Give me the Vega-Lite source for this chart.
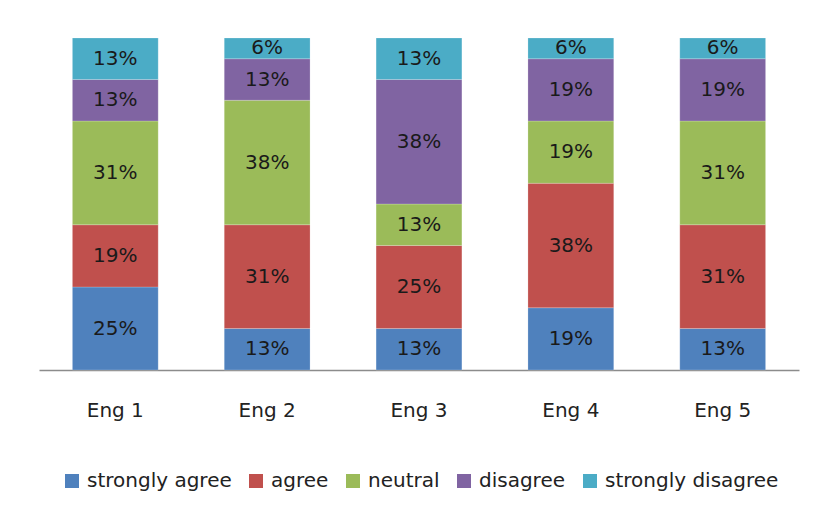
{
  "$schema": "https://vega.github.io/schema/vega-lite/v6.json",
  "width": 760,
  "height": 332,
  "padding": {"left": 39, "top": 37, "right": 18, "bottom": 10},
  "background": "white",
  "config": {
    "view": {"stroke": null},
    "font": "DejaVu Sans",
    "text": {"font": "DejaVu Sans"}
  },
  "data": {
    "values": [
      {"eng": "Eng 1", "resp": "strongly agree", "k": 1, "v": 0.25},
      {"eng": "Eng 1", "resp": "agree", "k": 2, "v": 0.1875},
      {"eng": "Eng 1", "resp": "neutral", "k": 3, "v": 0.3125},
      {"eng": "Eng 1", "resp": "disagree", "k": 4, "v": 0.125},
      {"eng": "Eng 1", "resp": "strongly disagree", "k": 5, "v": 0.125},
      {"eng": "Eng 2", "resp": "strongly agree", "k": 1, "v": 0.125},
      {"eng": "Eng 2", "resp": "agree", "k": 2, "v": 0.3125},
      {"eng": "Eng 2", "resp": "neutral", "k": 3, "v": 0.375},
      {"eng": "Eng 2", "resp": "disagree", "k": 4, "v": 0.125},
      {"eng": "Eng 2", "resp": "strongly disagree", "k": 5, "v": 0.0625},
      {"eng": "Eng 3", "resp": "strongly agree", "k": 1, "v": 0.125},
      {"eng": "Eng 3", "resp": "agree", "k": 2, "v": 0.25},
      {"eng": "Eng 3", "resp": "neutral", "k": 3, "v": 0.125},
      {"eng": "Eng 3", "resp": "disagree", "k": 4, "v": 0.375},
      {"eng": "Eng 3", "resp": "strongly disagree", "k": 5, "v": 0.125},
      {"eng": "Eng 4", "resp": "strongly agree", "k": 1, "v": 0.1875},
      {"eng": "Eng 4", "resp": "agree", "k": 2, "v": 0.375},
      {"eng": "Eng 4", "resp": "neutral", "k": 3, "v": 0.1875},
      {"eng": "Eng 4", "resp": "disagree", "k": 4, "v": 0.1875},
      {"eng": "Eng 4", "resp": "strongly disagree", "k": 5, "v": 0.0625},
      {"eng": "Eng 5", "resp": "strongly agree", "k": 1, "v": 0.125},
      {"eng": "Eng 5", "resp": "agree", "k": 2, "v": 0.3125},
      {"eng": "Eng 5", "resp": "neutral", "k": 3, "v": 0.3125},
      {"eng": "Eng 5", "resp": "disagree", "k": 4, "v": 0.1875},
      {"eng": "Eng 5", "resp": "strongly disagree", "k": 5, "v": 0.0625}
    ]
  },
  "encoding": {
    "x": {
      "field": "eng",
      "type": "nominal",
      "scale": {"paddingInner": 0.435, "paddingOuter": 0.22},
      "axis": {
        "title": null,
        "labelAngle": 0,
        "labelFont": "DejaVu Sans",
        "labelFontSize": 20,
        "labelColor": "#222222",
        "labelPadding": 30,
        "ticks": false,
        "domainColor": "#8c8c8c",
        "domainWidth": 1.5
      }
    },
    "y": {
      "field": "v",
      "type": "quantitative",
      "stack": "zero",
      "scale": {"domain": [0, 1], "nice": false},
      "axis": null
    },
    "order": {"field": "k", "type": "quantitative"}
  },
  "layer": [
    {
      "mark": {"type": "bar", "stroke": "white", "strokeWidth": 0.5, "strokeOpacity": 0.4},
      "encoding": {
        "color": {
          "field": "resp",
          "type": "nominal",
          "sort": ["strongly agree", "agree", "neutral", "disagree", "strongly disagree"],
          "scale": {
            "domain": ["strongly agree", "agree", "neutral", "disagree", "strongly disagree"],
            "range": ["#4F81BD", "#C0504D", "#9BBB59", "#8064A2", "#4BACC6"]
          },
          "legend": {
            "title": null,
            "orient": "none",
            "legendX": 23,
            "legendY": 433,
            "direction": "horizontal",
            "symbolType": "square",
            "symbolSize": 196,
            "symbolStrokeWidth": 0,
            "labelFont": "DejaVu Sans",
            "labelFontSize": 20,
            "labelColor": "#222222",
            "labelOffset": 5,
            "labelLimit": 400,
            "columnPadding": 14,
            "padding": 0
          }
        }
      }
    },
    {
      "mark": {"type": "text", "font": "DejaVu Sans", "fontSize": 20, "color": "#1a1a1a", "baseline": "middle"},
      "encoding": {
        "y": {"field": "v", "type": "quantitative", "stack": "zero", "bandPosition": 0.5},
        "text": {"field": "v", "type": "quantitative", "format": ".0%"}
      }
    }
  ]
}
